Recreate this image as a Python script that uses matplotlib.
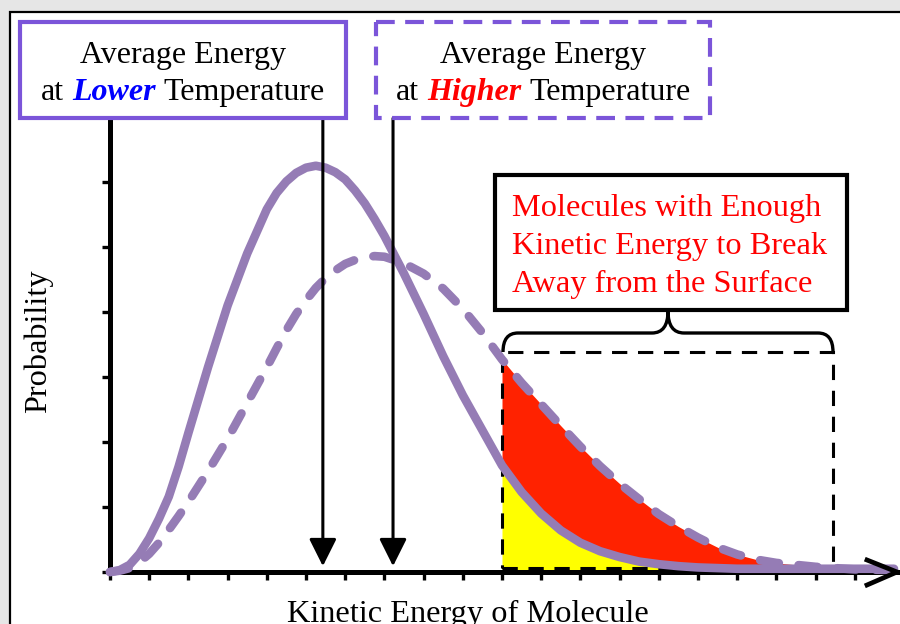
import matplotlib
matplotlib.use("Agg")
import matplotlib.pyplot as plt
from matplotlib.patches import Rectangle, PathPatch
from matplotlib.path import Path
from matplotlib.transforms import Affine2D
import numpy as np

# kinetic energy (tick units) and the two distributions
energy = [0, 0.25, 0.5, 0.75, 1, 1.25, 1.5, 1.75, 2, 2.5, 3, 3.5, 4, 4.25, 4.5,
          4.75, 5, 5.25, 5.5, 5.75, 6, 6.25, 6.5, 6.75, 7, 7.5, 8, 8.5, 9, 9.5,
          10, 10.5, 11, 11.5, 12, 12.5, 13, 13.5, 14, 14.5, 15, 15.5, 16, 16.5,
          17, 17.5, 18, 19, 20]
prob_lower = [0, 0.03, 0.11, 0.28, 0.52, 0.82, 1.16, 1.62, 2.14, 3.15, 4.10, 4.90,
              5.58, 5.83, 6.01, 6.14, 6.22, 6.25, 6.22, 6.15, 6.04, 5.87, 5.67,
              5.43, 5.17, 4.59, 3.97, 3.32, 2.72, 2.18, 1.64, 1.23, 0.90, 0.64,
              0.45, 0.32, 0.23, 0.16, 0.12, 0.09, 0.07, 0.06, 0.05, 0.05, 0.05,
              0.05, 0.05, 0.05, 0.05]
prob_higher = [0, 0.02, 0.06, 0.15, 0.28, 0.45, 0.65, 0.86, 1.08, 1.55, 2.05, 2.60,
               3.15, 3.44, 3.72, 3.97, 4.18, 4.37, 4.52, 4.64, 4.74, 4.80, 4.84,
               4.86, 4.85, 4.75, 4.59, 4.36, 4.05, 3.68, 3.27, 2.91, 2.58, 2.25,
               1.93, 1.63, 1.36, 1.12, 0.89, 0.70, 0.53, 0.38, 0.27, 0.19, 0.14,
               0.11, 0.08, 0.04, 0.03]
mean_lower = 5.43
mean_higher = 7.22
threshold = 10.0
region_end = 18.45
region_top = 3.38

x_ticks = list(range(20))
y_ticks = list(range(7))

purple_curve = "#957cb5"
purple_box = "#7b55d9"
serif = "Liberation Serif"

W, H = 900, 624
fig = plt.figure(figsize=(W / 100, H / 100), dpi=100, facecolor="#e6e6e6")
# pixel coordinates, origin top-left
tpx = Affine2D().scale(1, -1).translate(0, H)

# white page with black frame
fig.patches.append(Rectangle((10, 12), 900, 700, transform=tpx, facecolor="white",
                             edgecolor="black", lw=1.6, zorder=-5))

ax = fig.add_axes([110 / W, (H - 572) / H, (897 - 110) / W, (572 - 120) / H])
ax.patch.set_visible(False)
ax.set_zorder(2)
ax.set_xlim(0, (897 - 110) / 39.2)
ax.set_ylim(0, (572 - 120) / 65)
for s in ["top", "right"]:
    ax.spines[s].set_visible(False)
for s in ["left", "bottom"]:
    ax.spines[s].set_linewidth(3.6)
    ax.spines[s].set_capstyle("projecting")
ax.set_xticks(x_ticks)
ax.set_yticks(y_ticks)
ax.tick_params(direction="out", length=5.5, width=2.4, labelbottom=False, labelleft=False)

e = np.array(energy)
lo = np.array(prob_lower)
hi = np.array(prob_higher)
ax.fill_between(e, 0, lo, where=e >= threshold, color="#ffff00", lw=0, zorder=1)
ax.fill_between(e, lo, hi, where=e >= threshold, color="#ff2200", lw=0, zorder=1)

ax.add_patch(Rectangle((threshold, 0.06), region_end - threshold, region_top - 0.06,
                       fill=False, edgecolor="black", lw=2.2, linestyle=(0, (5, 3.5)),
                       clip_on=False, zorder=2))

ax.plot(energy, prob_lower, color=purple_curve, lw=6.2, solid_capstyle="round",
        solid_joinstyle="round", clip_on=False, zorder=3)
ax.plot(energy, prob_higher, color=purple_curve, lw=6.2, linestyle=(0, (2.2, 2.3)),
        dash_capstyle="round", dash_joinstyle="round", clip_on=False, zorder=3)

# mean energy arrows
for m in [mean_lower, mean_higher]:
    ax.annotate("", xy=(m, 0.09), xytext=(m, 6.98),
                arrowprops=dict(arrowstyle="-|>,head_length=1.2,head_width=0.6",
                                mutation_scale=14, lw=2.2, color="black",
                                shrinkA=0, shrinkB=0), annotation_clip=False, zorder=4)

# x-axis arrow head
fig.lines.append(plt.Line2D([867, 897, 867], [560, 572, 585], transform=tpx,
                            color="black", lw=3.4, solid_joinstyle="miter", zorder=3))

# boxes
fig.patches.append(Rectangle((20, 22), 326, 96, transform=tpx, fill=False,
                             edgecolor=purple_box, lw=3, zorder=5))
fig.patches.append(Rectangle((376, 22), 334, 96, transform=tpx, fill=False,
                             edgecolor=purple_box, lw=3, linestyle=(0, (4.5, 2.5)), zorder=5))
fig.patches.append(Rectangle((495, 175), 352, 135, transform=tpx, fill=False,
                             edgecolor="black", lw=3, zorder=5))

# brace
verts = [(503, 352), (503, 333), (518, 333), (652, 333), (668, 333), (668, 311),
         (668, 333), (684, 333), (818, 333), (833, 333), (833, 352)]
codes = [Path.MOVETO, Path.CURVE3, Path.CURVE3, Path.LINETO, Path.CURVE3, Path.CURVE3,
         Path.CURVE3, Path.CURVE3, Path.LINETO, Path.CURVE3, Path.CURVE3]
fig.patches.append(PathPatch(Path(verts, codes), transform=tpx, fill=False,
                             edgecolor="black", lw=2.4, zorder=5))

fs = 23
fig.text(183, 63, "Average Energy", transform=tpx, ha="center", va="baseline",
         fontsize=fs, family=serif)
fig.text(543, 63, "Average Energy", transform=tpx, ha="center", va="baseline",
         fontsize=fs, family=serif)


def rich_line(parts, cx, base):
    gap = 0.25 * fs * 100 / 72
    texts = [fig.text(0, base, s, transform=tpx, ha="left", va="baseline",
                      fontsize=fs, family=serif, **kw) for s, kw in parts]
    fig.canvas.draw()
    r = fig.canvas.get_renderer()
    widths = [t.get_window_extent(r).width for t in texts]
    x = cx - (sum(widths) + gap * (len(widths) - 1)) / 2
    for t, w in zip(texts, widths):
        t.set_x(x)
        x += w + gap


bi = dict(fontweight="bold", fontstyle="italic")
rich_line([("at", {}), ("Lower", dict(color="#0000ff", **bi)), ("Temperature", {})], 183, 100)
rich_line([("at", {}), ("Higher", dict(color="#ff0000", **bi)), ("Temperature", {})], 543, 100)

for s, b in zip(["Molecules with Enough", "Kinetic Energy to Break",
                 "Away from the Surface"], [216, 254, 292]):
    fig.text(512, b, s, transform=tpx, ha="left", va="baseline", fontsize=23.3,
             family=serif, color="#ff0000")

fig.text(468, 622, "Kinetic Energy of Molecule", transform=tpx, ha="center",
         va="baseline", fontsize=23.3, family=serif)
fig.text(38, 341, "Probability", transform=tpx, ha="center", va="center",
         rotation=90, fontsize=23.3, family=serif)

fig.savefig("out.png", dpi=100, facecolor=fig.get_facecolor())
